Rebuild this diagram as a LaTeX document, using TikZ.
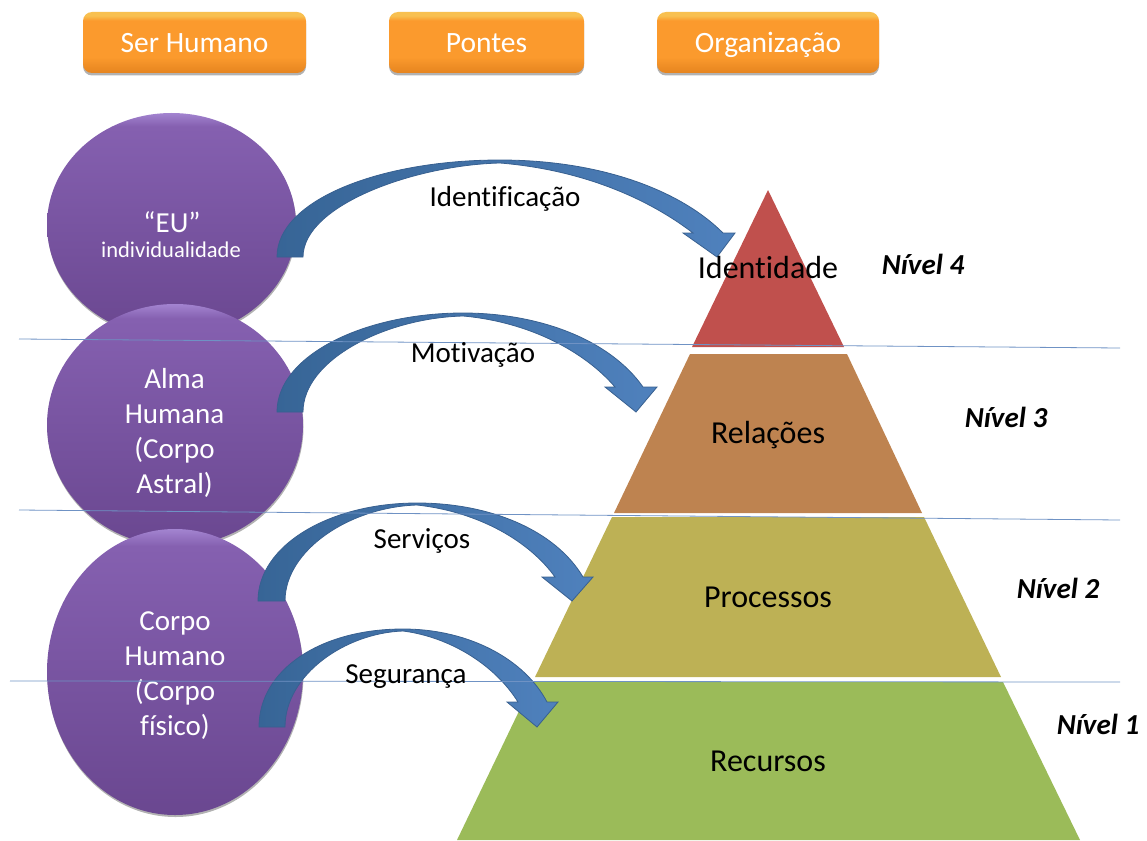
\documentclass[tikz,border=0pt]{standalone}
\usepackage{fontspec}
\setmainfont[Ligatures=NoCommon]{Carlito}
\usetikzlibrary{shapes.geometric,shadows}
\definecolor{purpA}{HTML}{A384D0}
\definecolor{purpB}{HTML}{8560B0}
\definecolor{purpC}{HTML}{6A4790}
\definecolor{btnA}{HTML}{F8C050}
\definecolor{btnB}{HTML}{FB9A2D}
\definecolor{btnC}{HTML}{E5841F}
\definecolor{arrA}{HTML}{376596}
\definecolor{arrB}{HTML}{4F81BD}
\definecolor{arrE}{HTML}{386090}
\definecolor{lineC}{HTML}{6F92C4}
\definecolor{lvlA}{HTML}{C0504D}
\definecolor{lvlB}{HTML}{BE8350}
\definecolor{lvlC}{HTML}{BDB155}
\definecolor{lvlD}{HTML}{9BBB59}
\pgfdeclareverticalshading{btnshade}{100bp}{color(0bp)=(btnC); color(25bp)=(btnC); color(38bp)=(btnB); color(68bp)=(btnB); color(72bp)=(btnA); color(75bp)=(btnA); color(100bp)=(btnA)}
\pgfdeclareverticalshading{ballshade}{100bp}{color(0bp)=(purpC); color(25bp)=(purpC); color(72bp)=(purpB); color(75bp)=(purpA); color(100bp)=(purpA)}
\tikzset{
  btnbox/.style={rounded corners=9pt,shading=btnshade,
     minimum height=61pt,text=white,font=\fontsize{29.5}{34}\selectfont,inner sep=0pt,
     text height=20pt,text depth=0pt,
     drop shadow={shadow xshift=0pt,shadow yshift=-2.5pt,opacity=.3,fill=black}},
  ball/.style={ellipse,shading=ballshade,inner sep=0pt,
     drop shadow={shadow xshift=.5pt,shadow yshift=-2pt,opacity=.3,fill=black}},
  balltext/.style={text=white,align=center,inner sep=0pt,font=\fontsize{29}{35}\selectfont},
  bridge/.style={left color=arrA,right color=arrB,draw=arrE,line width=.8pt,line join=miter},
  sep/.style={draw=lineC,line width=.8pt},
  lbl/.style={text=black,font=\fontsize{29}{34}\selectfont,inner sep=0pt},
  lblp/.style={text=black,font=\fontsize{32}{38}\selectfont,inner sep=0pt},
  lvl/.style={text=black,font=\fontsize{29}{34}\selectfont\bfseries\itshape,inner sep=0pt},
}
\begin{document}
\begin{tikzpicture}[x=1pt,y=-1pt]
\useasboundingbox (0,0) rectangle (1147,840);
% header buttons
\node[btnbox,minimum width=223pt] (sh) at (194.5,42.5) {Ser Humano};
\node[btnbox,minimum width=195pt] (po) at (486.5,42.5) {Pontes};
\node[btnbox,minimum width=222pt] (or) at (768,42.5) {Organização};
% circles
\node[ball,minimum width=249pt,minimum height=224pt] (c1) at (171.5,225) {};
\node[ball,minimum width=256pt,minimum height=242pt] (c2) at (175,425) {};
\node[ball,minimum width=256pt,minimum height=286pt] (c3) at (175,672) {};
\node[balltext] (t1a) at (172,222) {“EU”};
\node[balltext,font=\fontsize{22.5}{26}\selectfont] (t1b) at (171,250) {individualidade};
\node[balltext] (t2) at (174.5,433) {Alma\\Humana\\(Corpo\\Astral)};
\node[balltext] (t3) at (175,676) {Corpo\\Humano\\(Corpo\\físico)};
% pyramid
\fill[lvlA] (768,190) -- (844,347) -- (692,347) -- cycle;
\fill[lvlB] (690,354) -- (847,354) -- (922,513) -- (614,513) -- cycle;
\fill[lvlC] (612,517) -- (924,517) -- (1001,677) -- (535,677) -- cycle;
\fill[lvlD] (533,682) -- (1003,682) -- (1080,840) -- (457,840) -- cycle;
% bridges
\draw[bridge] (277,257) .. controls (277,200) and (380,160) .. (500,160)
   .. controls (600,160) and (680,190) .. (723,233) -- (735,233) -- (717,257) -- (683,233) -- (693,233)
   .. controls (650,200) and (585,170) .. (500,163) .. controls (415,165) and (303,205) .. (303,257) -- cycle;
\draw[bridge] (277,412) .. controls (277,355) and (365,313) .. (463,313)
   .. controls (540,313) and (610,340) .. (643,387) -- (657,387) -- (636,412) -- (605,387) -- (615,387)
   .. controls (585,352) and (530,322) .. (463,316) .. controls (385,318) and (303,360) .. (303,412) -- cycle;
\draw[bridge] (258,601) .. controls (258,545) and (330,503) .. (417,503)
   .. controls (490,503) and (555,530) .. (583,577) -- (593,577) -- (572,601) -- (542,577) -- (555,577)
   .. controls (530,542) and (480,512) .. (417,505) .. controls (350,507) and (285,550) .. (285,601) -- cycle;
\draw[bridge] (259,727) .. controls (259,670) and (320,629) .. (403,629)
   .. controls (470,629) and (525,660) .. (547,702) -- (558,702) -- (537,727) -- (507,702) -- (518,702)
   .. controls (495,665) and (450,637) .. (403,631) .. controls (345,633) and (285,675) .. (285,727) -- cycle;
% separators
\coordinate (s1a) at (19,339); \coordinate (s1b) at (1120,348);
\coordinate (s2a) at (19,510); \coordinate (s2b) at (1120,520);
\coordinate (s3a) at (10,681); \coordinate (s3b) at (1120,682);
\draw[sep] (s1a) -- (s1b);
\draw[sep] (s2a) -- (s2b);
\draw[sep] (s3a) -- (s3b);
% labels
\node[lbl] (l1) at (505,199) {Identificação};
\node[lbl] (l2) at (473,355) {Motivação};
\node[lbl] (l3) at (422,541) {Serviços};
\node[lbl] (l4) at (406,677) {Segurança};
\node[lblp] (p1) at (768,268) {Identidade};
\node[lblp] (p2) at (768,435) {Relações};
\node[lblp] (p3) at (768,597) {Processos};
\node[lblp] (p4) at (768,761) {Recursos};
\node[lvl] (n4) at (923,264) {Nível 4};
\node[lvl] (n3) at (1006,417) {Nível 3};
\node[lvl] (n2) at (1058,588) {Nível 2};
\node[lvl] (n1) at (1098,724) {Nível 1};
\end{tikzpicture}
\end{document}
